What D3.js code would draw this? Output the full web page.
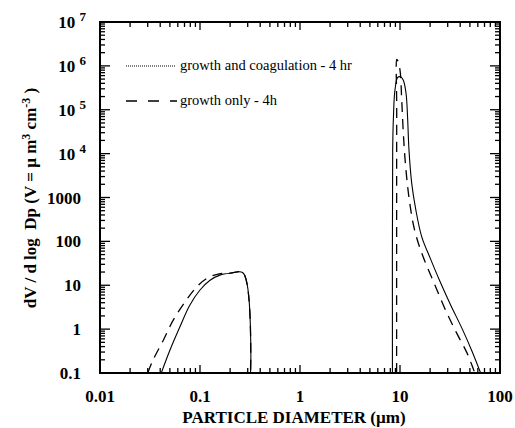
<!DOCTYPE html>
<html>
<head>
<meta charset="utf-8">
<script src="https://cdn.jsdelivr.net/npm/d3@7"></script>
<style>
  body { margin: 0; background: #fff; }
  text { font-family: "Liberation Serif", "Times New Roman", serif; }
</style>
</head>
<body>
<script>
// fine mode, growth and coagulation
const fineCoagD = [0.041, 0.05, 0.063, 0.079, 0.1, 0.126, 0.158, 0.2, 0.27, 0.32];
const fineCoagV = [0.1, 0.33, 1.13, 3.5, 7.8, 13, 17, 18.7, 19, 0.1];
// fine mode, growth only
const fineGrowD = [0.030, 0.034, 0.043, 0.054, 0.071, 0.093, 0.117, 0.152, 0.2, 0.27, 0.32];
const fineGrowV = [0.1, 0.2, 0.56, 1.6, 4.2, 9.2, 14.3, 18, 18.8, 19, 0.1];
// coarse mode, growth and coagulation
const coarseCoagD = [8.4, 8.45, 8.6, 8.9, 9.5, 10.2, 10.8, 11.5, 11.9, 12.3, 13.1, 14.4, 16.5, 20, 25, 32, 42, 52, 64];
const coarseCoagV = [0.1, 1.2e4, 6.9e4, 2.8e5, 5.5e5, 5.6e5, 4.7e5, 2.35e5, 6.9e4, 1.2e4, 2100, 520, 127, 42, 12.5, 3.6, 1, 0.33, 0.1];
// coarse mode, growth only
const coarseGrowD = [9.25, 9.27, 9.3, 9.5, 10.0, 10.4, 10.8, 11.4, 12.4, 14, 17, 22, 29, 37, 47, 53, 56];
const coarseGrowV = [0.1, 1e5, 1.4e6, 1.3e6, 8e5, 1.7e5, 2.9e4, 5000, 870, 180, 45, 11, 2.5, 0.8, 0.28, 0.14, 0.1];

const xTickValues = [0.01, 0.1, 1, 10, 100];
const xTickLabels = ["0.01", "0.1", "1", "10", "100"];
const yTickValues = [0.1, 1, 10, 100, 1000, 1e4, 1e5, 1e6, 1e7];
const yTickLabels = ["0.1", "1", "10", "100", "1000", "10^4", "10^5", "10^6", "10^7"];
const legendLabels = ["growth and coagulation - 4 hr", "growth only - 4h"];

let width = 515, height = 428;
let margin = { top: 22, bottom: 55, left: 100, right: 15 };

let svg = d3.select('body')
            .append('svg')
            .attr('width', width)
            .attr('height', height);

const x = d3.scaleLog()
    .domain([0.01, 100])
    .range([margin.left, width - margin.right]);

const y = d3.scaleLog()
    .domain([0.1, 1e7])
    .range([height - margin.bottom, margin.top]);

const x0 = margin.left, x1 = width - margin.right;
const y0 = height - margin.bottom, y1 = margin.top;

svg.append("clipPath").attr("id", "plot")
   .append("rect")
   .attr("x", x0).attr("y", y1)
   .attr("width", x1 - x0).attr("height", y0 - y1);

// ticks, inward on all four sides
const isMajor = v => Math.abs(Math.log10(v) - Math.round(Math.log10(v))) < 1e-6;
const ticks = svg.append("g").attr("stroke", "black").attr("stroke-width", 1.3);

x.ticks().forEach(v => {
    const len = isMajor(v) ? 8 : 5;
    ticks.append("line").attr("x1", x(v)).attr("x2", x(v)).attr("y1", y0).attr("y2", y0 - len);
    ticks.append("line").attr("x1", x(v)).attr("x2", x(v)).attr("y1", y1).attr("y2", y1 + len);
});
y.ticks().forEach(v => {
    const len = isMajor(v) ? 10 : 5;
    ticks.append("line").attr("x1", x0).attr("x2", x0 + len).attr("y1", y(v)).attr("y2", y(v));
    ticks.append("line").attr("x1", x1).attr("x2", x1 - len).attr("y1", y(v)).attr("y2", y(v));
});

// frame
svg.append("rect")
   .attr("x", x0).attr("y", y1)
   .attr("width", x1 - x0).attr("height", y0 - y1)
   .attr("fill", "none")
   .attr("stroke", "black")
   .attr("stroke-width", 2);

// tick labels
xTickValues.forEach((v, i) => {
    svg.append("text")
       .attr("x", x(v))
       .attr("y", 402)
       .attr("text-anchor", "middle")
       .attr("font-size", 17)
       .attr("font-weight", "bold")
       .text(xTickLabels[i]);
});

yTickValues.forEach((v, i) => {
    const lab = yTickLabels[i];
    const t = svg.append("text")
       .attr("y", y(v) + 6)
       .attr("font-size", 17)
       .attr("font-weight", "bold")
       .attr("text-anchor", "end");
    if (lab.includes("^")) {
        const parts = lab.split("^");
        t.attr("x", 86);
        t.append("tspan").text(parts[0] + " ");
        t.append("tspan").attr("dy", -7).attr("font-size", 13).text(parts[1]);
    } else {
        t.attr("x", 81).text(lab);
    }
});

// axis titles
svg.append("text")
   .attr("x", 294)
   .attr("y", 423)
   .attr("text-anchor", "middle")
   .attr("font-size", 17)
   .attr("font-weight", "bold")
   .text("PARTICLE DIAMETER (\u00b5m)");

const yt = svg.append("text")
   .attr("transform", "translate(36,198) rotate(-90)")
   .attr("text-anchor", "middle")
   .attr("font-size", 17)
   .attr("font-weight", "bold")
   .attr("xml:space", "preserve");
yt.append("tspan").text("dV / d log  Dp (V = \u00b5 m");
yt.append("tspan").attr("dy", -6).attr("font-size", 12).text("3");
yt.append("tspan").attr("dy", 6).text(" cm");
yt.append("tspan").attr("dy", -6).attr("font-size", 12).text("-3");
yt.append("tspan").attr("dy", 6).text(" )");

// curves
const line = d3.line()
    .x(d => x(d[0]))
    .y(d => y(d[1]))
    .curve(d3.curveCatmullRom.alpha(0.5));

const curves = svg.append("g").attr("clip-path", "url(#plot)").attr("fill", "none");

[[fineGrowD, fineGrowV], [coarseGrowD, coarseGrowV]].forEach(s => {
    curves.append("path")
       .datum(d3.zip(s[0], s[1]))
       .attr("stroke", "black")
       .attr("stroke-width", 1.3)
       .attr("stroke-dasharray", "10,7")
       .attr("d", line);
});

[[fineCoagD, fineCoagV], [coarseCoagD, coarseCoagV]].forEach(s => {
    curves.append("path")
       .datum(d3.zip(s[0], s[1]))
       .attr("stroke", "black")
       .attr("stroke-width", 1.1)
       .attr("d", line);
});

// legend
const legend = svg.append("g");
legend.append("line")
      .attr("x1", 126).attr("x2", 175).attr("y1", 66).attr("y2", 66)
      .attr("stroke", "black").attr("stroke-width", 1)
      .attr("stroke-dasharray", "1,1");
legend.append("line")
      .attr("x1", 126).attr("x2", 177).attr("y1", 101).attr("y2", 101)
      .attr("stroke", "black").attr("stroke-width", 1.3)
      .attr("stroke-dasharray", "11,11");
legendLabels.forEach((lab, i) => {
    legend.append("text")
          .attr("x", 180)
          .attr("y", 70 + i * 35)
          .attr("font-size", 14.5)
          .text(lab);
});
</script>
</body>
</html>
